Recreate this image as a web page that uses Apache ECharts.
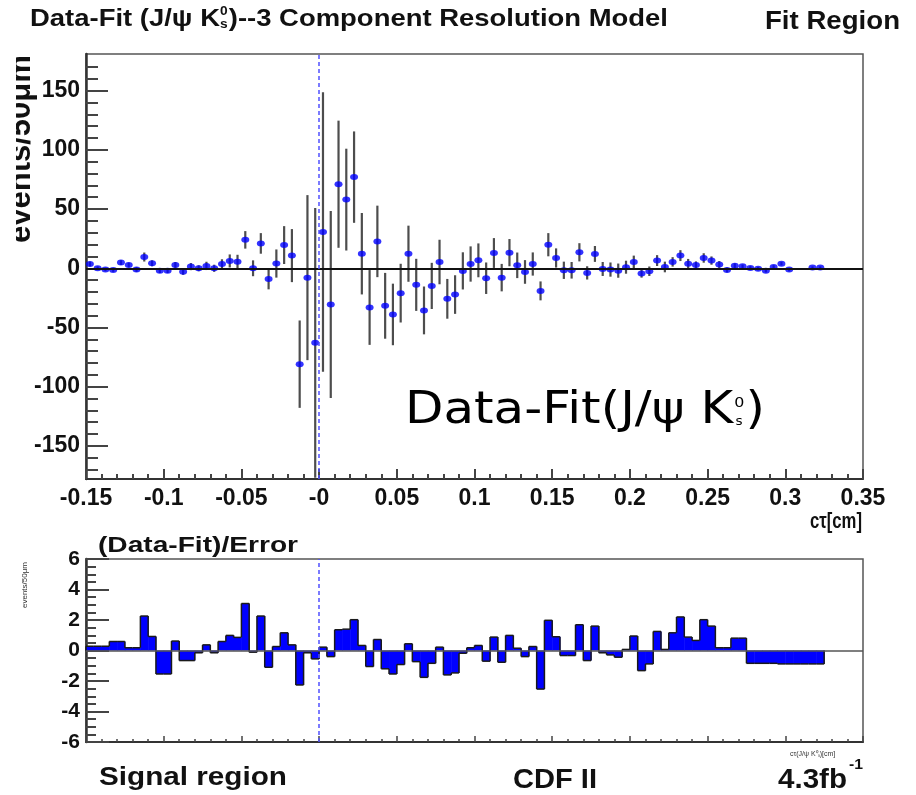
<!DOCTYPE html>
<html><head><meta charset="utf-8">
<script src="https://cdn.jsdelivr.net/npm/echarts@6/dist/echarts.min.js"></script>
<style>html,body{margin:0;padding:0;background:#fff;overflow:hidden}#c{width:916px;height:795px}</style>
</head><body><div id="c"></div>
<script>
// ---------------- data ----------------
const binWidth = 0.005;
const binCenters = [
 -0.1475,-0.1425,-0.1375,-0.1325,-0.1275,-0.1225,-0.1175,-0.1125,-0.1075,-0.1025,
 -0.0975,-0.0925,-0.0875,-0.0825,-0.0775,-0.0725,-0.0675,-0.0625,-0.0575,-0.0525,
 -0.0475,-0.0425,-0.0375,-0.0325,-0.0275,-0.0225,-0.0175,-0.0125,-0.0075,-0.0025,
 0.0025,0.0075,0.0125,0.0175,0.0225,0.0275,0.0325,0.0375,0.0425,0.0475,
 0.0525,0.0575,0.0625,0.0675,0.0725,0.0775,0.0825,0.0875,0.0925,0.0975,
 0.1025,0.1075,0.1125,0.1175,0.1225,0.1275,0.1325,0.1375,0.1425,0.1475,
 0.1525,0.1575,0.1625,0.1675,0.1725,0.1775,0.1825,0.1875,0.1925,0.1975,
 0.2025,0.2075,0.2125,0.2175,0.2225,0.2275,0.2325,0.2375,0.2425,0.2475,
 0.2525,0.2575,0.2625,0.2675,0.2725,0.2775,0.2825,0.2875,0.2925,0.2975,
 0.3025,0.3075,0.3125,0.3175,0.3225
];
// Data - Fit (events / 50 um)
const fitResidual = [
 3.6, 0, -1, -1.5, 4.8, 2.8, -1, 9.5, 4.2, -2,
 -2, 2.8, -3, 1.4, 0, 2, 0, 3.6, 6.2, 5.6,
 24, 0, 21, -9, 4, 19.6, 10.7, -81, -7.9, -63,
 30.6, -30.6, 71, 58, 77, 12.3, -33.1, 22.7, -31.7, -39,
 -21, 12.3, -14, -35.6, -14.9, 5.3, -25.8, -22.2, -2.2, 3.6,
 6.7, -8.4, 12.9, -7.9, 13.2, 2.5, -3.1, 3.6, -19.1, 19.9,
 8.7, -1.7, -1.7, 13.5, -3.9, 12.1, -0.6, -1.1, -2, 0.9,
 5.4, -4.4, -2.5, 6.5, 1.1, 5.4, 10.7, 3.9, 2.8, 8.7,
 6.5, 3.1, -1.4, 2.2, 1.7, 0.3, -0.3, -2, 1.1, 3.9,
 -1.1, null, null, 0.6, 0.6
];
const fitResidualErr = [
 2, 1.5, 1.5, 1.5, 2, 2, 2, 3.8, 2.5, 2,
 2, 2.5, 2.5, 3, 2.5, 3.5, 3, 4, 5.5, 5.8,
 7.4, 6.7, 8.7, 8.8, 11.9, 16, 22.4, 36.9, 69.7, 114,
 118, 79, 53.7, 43, 38.6, 34.4, 31.6, 30.2, 27.8, 26,
 24.8, 23.7, 22, 20.2, 19.5, 18.8, 16.8, 16.3, 15.7, 14.9,
 14.3, 13.3, 12.6, 11.6, 11.5, 10.8, 10, 9.8, 8, 9.8,
 8.1, 7.3, 7, 7.7, 5.6, 6.7, 5.9, 6, 6, 5.5,
 5.3, 3.5, 4, 4.6, 4.5, 4, 4.6, 4, 3, 4,
 3.5, 3, 2, 2, 1.5, 1.5, 1.5, 1.5, 1.5, 1.5,
 1.5, null, null, 1, 1
];
// (Data - Fit) / Error
const pull = [
 0.28, 0.28, 0.28, 0.59, 0.59, 0.18, 0.18, 2.26, 0.92, -1.54,
 -1.54, 0.62, -0.66, -0.66, -0.15, 0.37, -0.15, 0.59, 0.99, 0.86,
 3.08, -0.11, 2.26, -1.1, 0.26, 1.16, 0.37, -2.26, -0.15, -0.55,
 0.22, -0.4, 1.36, 1.4, 2.02, 0.33, -1.05, 0.72, -1.2, -1.54,
 -0.92, 0.44, -0.73, -1.76, -0.84, 0.22, -1.6, -1.47, -0.18, 0.18,
 0.33, -0.7, 0.88, -0.77, 0.99, 0.15, -0.4, 0.26, -2.53, 1.98,
 0.9, -0.33, -0.33, 1.69, -0.66, 1.6, -0.15, -0.29, -0.44, 0.07,
 0.95, -1.32, -0.88, 1.25, 0.07, 1.16, 2.2, 0.88, 0.66, 2.02,
 1.6, 0.18, 0.18, 0.81, 0.81, -0.84, -0.84, -0.84, -0.84, -0.88,
 -0.88, -0.88, -0.88, -0.88, -0.88
];
const upperYMajorTicks = [-150, -100, -50, 0, 50, 100, 150];
const upperYMinorTicks = [-170,-160,-140,-130,-120,-110,-90,-80,-70,-60,-40,-30,-20,-10,10,20,30,40,60,70,80,90,110,120,130,140,160,170];
const xRange = [-0.15, 0.35];
const upperYRange = [-178, 181];
const lowerYRange = [-6, 6];

// ---------------- helpers ----------------
const mctx = document.createElement('canvas').getContext('2d');
function tw(t, font) { mctx.font = font; return mctx.measureText(t).width; }
const BOLD = '"Liberation Sans", Arial, sans-serif';
const DEJ = '"DejaVu Sans", sans-serif';

function fitText(text, x, cy, width, size, opts) {
  opts = opts || {};
  const fam = opts.family || BOLD;
  const weight = opts.weight || 'bold';
  const w = tw(text, weight + ' ' + size + 'px ' + fam);
  const sx = width / w;
  return {
    type: 'text', x: x, y: cy, scaleX: sx, z: 100,
    style: { text: text, fontFamily: fam, fontWeight: weight, fontSize: size,
      fill: opts.color || '#111', align: 'left', verticalAlign: 'middle' }
  };
}

// ---------------- graphics (titles, labels) ----------------
const graphics = [];
// Title with K^0_s
(function(){
  const size = 24, f = 'bold ' + size + 'px ' + BOLD, fs = 'bold 12px ' + BOLD;
  const A = 'Data-Fit (J/\u03c8 K', B = ')--3 Component Resolution Model';
  const wA = tw(A, f), wS = tw('0', fs) + 1, wB = tw(B, f);
  const sx = 638 / (wA + wS + wB);
  graphics.push({ type: 'group', x: 30, y: 19, scaleX: sx, z: 100, children: [
    { type: 'text', x: 0, y: 0, style: { text: A, font: f, fill: '#111', verticalAlign: 'middle' } },
    { type: 'text', x: wA, y: -7, style: { text: '0', font: fs, fill: '#111', verticalAlign: 'middle' } },
    { type: 'text', x: wA, y: 6, style: { text: 's', font: fs, fill: '#111', verticalAlign: 'middle' } },
    { type: 'text', x: wA + wS, y: 0, style: { text: B, font: f, fill: '#111', verticalAlign: 'middle' } }
  ]});
})();
graphics.push(fitText('Fit Region', 765, 22, 135, 25));
// In-plot label
(function(){
  const size = 44, f = size + 'px ' + DEJ, fs = '14px ' + DEJ;
  const A = 'Data-Fit(J/\u03c8 K', B = ')';
  const wA = tw(A, f), wS = tw('0', fs) + 2, wB = tw(B, f);
  const sx = 360 / (wA + wS + wB);
  graphics.push({ type: 'group', x: 405, y: 412, scaleX: sx, z: 100, children: [
    { type: 'text', x: 0, y: 0, style: { text: A, font: f, fill: '#000', verticalAlign: 'middle' } },
    { type: 'text', x: wA + 1, y: -9, style: { text: '0', font: fs, fill: '#000', verticalAlign: 'middle' } },
    { type: 'text', x: wA + 2, y: 10, style: { text: 's', font: '12px ' + DEJ, fill: '#000', verticalAlign: 'middle' } },
    { type: 'text', x: wA + wS, y: 0, style: { text: B, font: f, fill: '#000', verticalAlign: 'middle' } }
  ]});
})();
graphics.push(fitText('c\u03c4[cm]', 810, 522, 52, 22));
graphics.push(fitText('(Data-Fit)/Error', 98, 546, 200, 22));
graphics.push(fitText('Signal region', 99, 778, 188, 26));
graphics.push(fitText('CDF II', 513, 781, 84, 27));
graphics.push(fitText('4.3fb', 778, 781, 69, 27));
graphics.push(fitText('-1', 849, 765, 14, 15));
// tiny axis title of lower pad
graphics.push({ type: 'text', x: 790, y: 754, z: 100, style: { text: 'c\u03c4(J/\u03c8 K\u2070\u209b)[cm]', fontFamily: BOLD, fontSize: 7, fill: '#333', verticalAlign: 'middle' } });
graphics.push({ type: 'text', x: 25, y: 585, rotation: Math.PI / 2, z: 100, style: { text: 'events/50\u03bcm', fontFamily: BOLD, fontSize: 8, fill: '#333', align: 'center', verticalAlign: 'middle' } });
// big rotated y title, cropped at left edge
graphics.push({ type: 'text', x: 37, y: 243, rotation: Math.PI / 2, z: 100, style: { text: 'events/50\u03bcm', fontFamily: BOLD, fontWeight: 'bold', fontSize: 31, fill: '#111', align: 'left', verticalAlign: 'bottom' } });
graphics.push({ type: 'rect', shape: { x: 0, y: 30, width: 16, height: 230 }, style: { fill: '#fff' }, z: 101 });

// ---------------- chart ----------------
const chart = echarts.init(document.getElementById('c'), null, { renderer: 'canvas' });
const tickColor = '#444';
const fmtX = v => { const r = Math.round(v * 100) / 100; return r === 0 ? '-0' : String(r); };
const labelFont = { fontFamily: BOLD, fontWeight: 'bold', color: '#111' };

const option = {
  animation: false,
  backgroundColor: '#fff',
  grid: [
    { left: 86, right: 53, top: 54, height: 425, show: true, borderColor: '#555', borderWidth: 1.5, backgroundColor: 'transparent' },
    { left: 86, right: 53, top: 559, height: 183, show: true, borderColor: '#555', borderWidth: 1.5, backgroundColor: 'transparent' }
  ],
  xAxis: [
    { type: 'value', gridIndex: 0, min: xRange[0], max: xRange[1], interval: 0.05,
      axisLine: { show: true, onZero: false, lineStyle: { color: '#333', width: 2 } },
      axisTick: { show: true, inside: true, length: 10, lineStyle: { color: tickColor, width: 2 } },
      minorTick: { show: true, splitNumber: 5, length: 5, lineStyle: { color: tickColor, width: 2 } },
      axisLabel: Object.assign({ show: true, fontSize: 23, margin: 8, formatter: fmtX, showMinLabel: true, showMaxLabel: true }, labelFont),
      splitLine: { show: false } },
    { type: 'value', gridIndex: 1, min: xRange[0], max: xRange[1], interval: 0.05,
      axisLine: { show: true, onZero: false, lineStyle: { color: '#333', width: 2 } },
      axisTick: { show: true, inside: true, length: 6, lineStyle: { color: tickColor, width: 1.5 } },
      minorTick: { show: true, splitNumber: 5, length: 3, lineStyle: { color: tickColor, width: 1.5 } },
      axisLabel: { show: false }, splitLine: { show: false } }
  ],
  yAxis: [
    { type: 'value', gridIndex: 0, min: upperYRange[0], max: upperYRange[1],
      axisLine: { show: true, onZero: false, lineStyle: { color: '#333', width: 2.5 } },
      axisTick: { show: true, inside: true, length: 22, customValues: upperYMajorTicks, lineStyle: { color: tickColor, width: 2 } },
      axisLabel: Object.assign({ show: true, fontSize: 23, margin: 6, customValues: upperYMajorTicks }, labelFont),
      splitLine: { show: false } },
    { type: 'value', gridIndex: 0, min: upperYRange[0], max: upperYRange[1], position: 'left',
      axisLine: { show: false, onZero: false },
      axisTick: { show: true, inside: true, length: 12, customValues: upperYMinorTicks, lineStyle: { color: tickColor, width: 2 } },
      axisLabel: { show: false }, splitLine: { show: false } },
    { type: 'value', gridIndex: 1, min: lowerYRange[0], max: lowerYRange[1], interval: 2,
      axisLine: { show: true, onZero: false, lineStyle: { color: '#333', width: 2.5 } },
      axisTick: { show: true, inside: true, length: 23, lineStyle: { color: tickColor, width: 2 } },
      minorTick: { show: true, splitNumber: 4, length: 10, lineStyle: { color: tickColor, width: 2 } },
      axisLabel: Object.assign({ show: true, fontSize: 21, margin: 6, showMinLabel: true, showMaxLabel: true }, labelFont),
      splitLine: { show: false } }
  ],
  series: [
    { // error bars
      type: 'custom', xAxisIndex: 0, yAxisIndex: 0, z: 3,
      data: binCenters.map((x, i) => fitResidual[i] == null ? null : [x, fitResidual[i], fitResidualErr[i]]).filter(Boolean),
      renderItem: function (params, api) {
        const x = api.value(0), y = api.value(1), e = api.value(2);
        const p1 = api.coord([x, y + e]), p2 = api.coord([x, y - e]);
        const cs = params.coordSys;
        const top = Math.max(p1[1], cs.y), bot = Math.min(p2[1], cs.y + cs.height);
        return { type: 'line', shape: { x1: p1[0], y1: top, x2: p1[0], y2: bot }, style: { stroke: '#4d4d4d', lineWidth: 2.2 } };
      }
    },
    { // data-fit points
      type: 'scatter', xAxisIndex: 0, yAxisIndex: 0, z: 4,
      symbol: 'circle', symbolSize: [8, 6],
      itemStyle: { color: '#0000ff' },
      data: binCenters.map((x, i) => fitResidual[i] == null ? null : [x, fitResidual[i]]).filter(Boolean),
      markLine: { silent: true, symbol: 'none', label: { show: false }, animation: false,
        data: [
          { yAxis: 0, lineStyle: { color: '#111', type: 'solid', width: 1.8 } },
          { xAxis: 0, lineStyle: { color: '#5050ff', type: [4, 3], width: 1.5 } }
        ] }
    },
    { // pull histogram
      type: 'custom', xAxisIndex: 1, yAxisIndex: 2, z: 3,
      data: binCenters.map((x, i) => [x, pull[i]]),
      renderItem: function (params, api) {
        const i = params.dataIndex;
        const x = api.value(0), v = api.value(1);
        const L = api.coord([x - binWidth / 2, 0]);
        const R = api.coord([x + binWidth / 2, v]);
        const prev = i > 0 ? pull[i - 1] : 0;
        const P = api.coord([x - binWidth / 2, prev]);
        const st = { stroke: '#1a1a1a', lineWidth: 1.5 };
        const ch = [
          { type: 'rect', shape: { x: L[0], y: Math.min(L[1], R[1]), width: R[0] - L[0] + 0.5, height: Math.abs(R[1] - L[1]) }, style: { fill: '#0000ff' } },
          { type: 'line', shape: { x1: L[0], y1: R[1], x2: R[0], y2: R[1] }, style: st },
          { type: 'line', shape: { x1: L[0], y1: P[1], x2: L[0], y2: R[1] }, style: st }
        ];
        if (i === pull.length - 1) ch.push({ type: 'line', shape: { x1: R[0], y1: R[1], x2: R[0], y2: L[1] }, style: st });
        return { type: 'group', children: ch };
      },
      markLine: { silent: true, symbol: 'none', label: { show: false }, animation: false,
        data: [
          { yAxis: 0, lineStyle: { color: '#555', type: 'solid', width: 1.5 } },
          { xAxis: 0, lineStyle: { color: '#5050ff', type: [4, 3], width: 1.5 } }
        ] }
    }
  ],
  graphic: graphics
};
chart.setOption(option);
</script>
</body></html>
